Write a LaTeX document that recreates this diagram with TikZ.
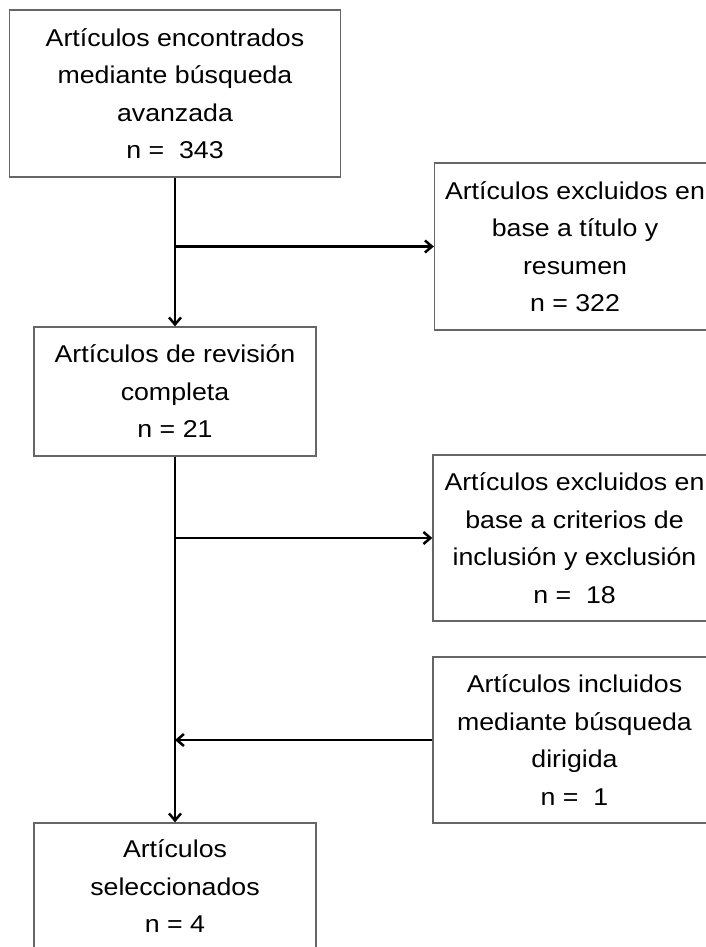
\documentclass[tikz,border=0pt]{standalone}
\usepackage{fontspec}
\setmainfont{Liberation Sans}[FakeStretch=1.1]
\usetikzlibrary{arrows.meta}
\tikzset{
  box/.style={draw=black!60, line width=1.3pt, align=center, inner sep=0pt,
    font=\fontsize{24.3}{37.5}\selectfont, text=black},
  conn/.style={draw=black, line width=2.5pt, -{Straight Barb[length=7pt,width=12pt]}}
}
\begin{document}
\begin{tikzpicture}[x=1pt,y=1pt]
\useasboundingbox (0,0) rectangle (705,-947);
\node[box, minimum width=331, minimum height=167] (b1) at (175,-93.5)
  {Artículos encontrados\\mediante búsqueda\\avanzada\\n = \ 343};
\node[box, minimum width=281, minimum height=167] (b2) at (575,-246.5)
  {Artículos excluidos en\\base a título y\\resumen\\n = 322};
\node[box, minimum width=282, minimum height=129] (b3) at (175,-391.5)
  {Artículos de revisión\\completa\\n = 21};
\node[box, minimum width=283, minimum height=166] (b4) at (574.5,-538)
  {Artículos excluidos en\\base a criterios de\\inclusión y exclusión\\n = \ 18};
\node[box, minimum width=283, minimum height=166] (b5) at (574.5,-740)
  {Artículos incluidos\\mediante búsqueda\\dirigida\\n = \ 1};
\node[box, minimum width=282, minimum height=127] (b6) at (175,-886.5)
  {Artículos\\seleccionados\\n = 4};
\coordinate (j1) at (b1.south |- b2.west);
\coordinate (j2) at (b3.south |- b4.west);
\coordinate (j3) at (b3.south |- b5.west);
\draw[conn] (b1.south) -- (b3.north);
\draw[conn] (b3.south) -- (b6.north);
\draw[conn] (j1) -- (b2.west);
\draw[conn] (j2) -- (b4.west);
\draw[conn] (b5.west) -- (j3);
\end{tikzpicture}
\end{document}
